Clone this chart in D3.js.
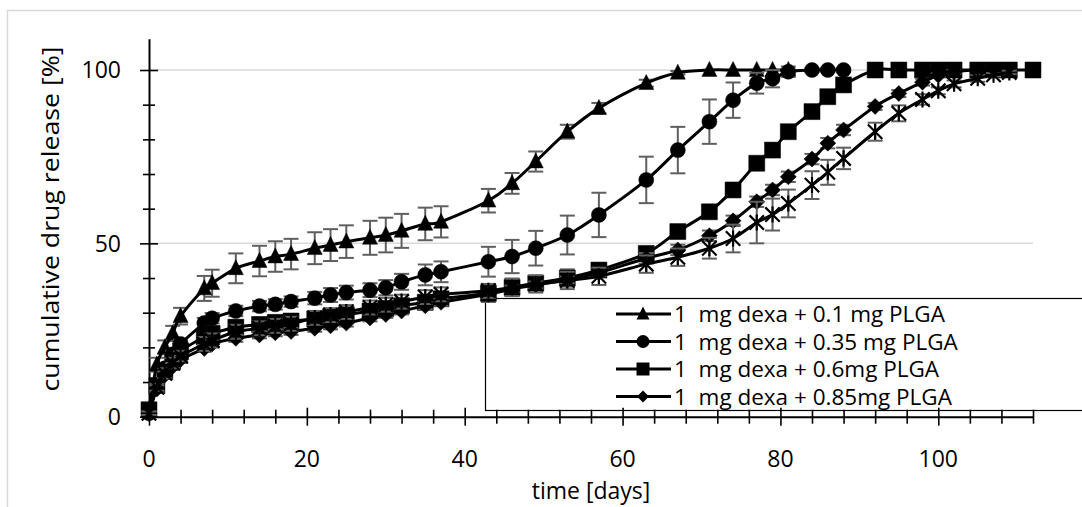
<!DOCTYPE html>
<html>
<head>
<meta charset="utf-8">
<script src="https://cdn.jsdelivr.net/npm/d3@7"></script>
<style>
  body { margin: 0; background: #fff; }
  text { font-family: "Open Sans", sans-serif; fill: #000; }
  .legend-label { white-space: pre; }
</style>
</head>
<body>
<div id="chart"></div>
<script>
// release measured on these days (all series share them, shorter ones stop early)
var days = [0, 1, 2, 3, 4, 7, 8, 11, 14, 16, 18, 21, 23, 25, 28, 30, 32, 35, 37, 43, 46, 49, 53, 57,
            63, 67, 71, 74, 77, 79, 81, 84, 86, 88, 92, 95, 98, 100, 102, 105, 107, 109, 112];

var seriesNames = ["1  mg dexa + 0.1 mg PLGA", "1  mg dexa + 0.35 mg PLGA",
                   "1  mg dexa + 0.6mg PLGA", "1  mg dexa + 0.85mg PLGA", "1  mg dexa + 1.1mg PLGA"];
var markers = ["triangle", "circle", "square", "diamond", "star"];

var release01 = [2, 15, 20, 24, 29, 37, 38.5, 42.8, 44.9, 46.2, 46.9, 48.6, 49.5, 50.5, 51.6, 52.4, 53.6, 55.6, 56.2,
                 62.3, 67.3, 73.6, 82.2, 89, 96.2, 99.2, 100, 100, 100, 100, 100];
var sd01 = [1, 2, 2, 2.2, 2.4, 3.6, 3.9, 4.3, 4.4, 4.4, 4.4, 4.6, 4.6, 4.7, 4.9, 5, 4.9, 4.7, 4.5,
            3.4, 3, 2.9, 2, 1.5, 1, 0.5, 0, 0, 0, 0, 0];

var release035 = [1, 9, 14, 18, 21, 27, 28.4, 30.5, 31.9, 32.4, 33.2, 34.2, 35.1, 35.8, 36.5, 37.2, 38.9, 40.9, 41.8,
                  44.7, 46.2, 48.6, 52.4, 58.2, 68.3, 76.9, 85.1, 91.3, 96.2, 97.5, 99.5, 100, 100, 100];
var sd035 = [0.5, 1, 1, 1, 1.2, 1.5, 1.5, 1.5, 1.5, 1.5, 1.5, 1.8, 2, 2, 2, 2.2, 2.3, 3, 3,
             4.3, 4.8, 5, 5.6, 6.4, 6.7, 6.7, 6.4, 5.1, 3, 2.5, 1.5, 0.5, 0.5, 0.5];

var release06 = [2, 9, 13, 16, 19, 23, 24, 25.8, 26.6, 27.2, 27.6, 28.2, 28.8, 29.4, 30.5, 31.2, 32, 33, 34,
                 35.6, 37.3, 38.5, 40, 42.3, 47.1, 53.4, 59.1, 65.4, 73.1, 76.9, 82.2, 88, 92.3, 95.7,
                 100, 100, 100, 100, 100, 100, 100, 100, 100];
var sd06 = [1, 1.5, 1.5, 1.5, 1.5, 2, 2, 2, 2, 2, 2, 2, 2, 2, 2, 2, 2, 2, 2,
            2.5, 2.5, 2, 2.5, 1.5, 1.5, 1.5, 1.5, 1.5, 1, 1, 1, 1, 1, 1, 0, 0, 0, 0, 0, 0, 0, 0, 0];

var release085 = [1, 8, 12, 14.5, 16.5, 19.7, 21, 22.6, 23.6, 24.2, 24.6, 25.5, 26.2, 27, 28.5, 29.5, 30.5, 32, 33,
                  35.3, 36.8, 38, 39.5, 41.5, 45.7, 48.1, 52.2, 56.5, 62, 65.4, 69.2, 74.3, 78.9, 82.7,
                  89.5, 93.2, 96.5, 98.5, 99.5, 100, 100, 100];
var sd085 = [0.5, 1, 1, 1, 1, 1, 1, 1, 1, 1, 1, 1, 1, 1, 1, 1, 1, 1, 1,
             1, 1, 1, 1, 1, 1.5, 1.5, 1.5, 1.5, 1.5, 1.5, 1.5, 1.5, 1.5, 1.5, 1, 1, 1, 0.5, 0.5, 0, 0, 0];

var release11 = [1, 8.5, 12.5, 15.5, 17.5, 21, 22, 24.5, 25.5, 26.2, 26.8, 28.5, 29.3, 30.2, 31.5, 32.3, 33.2, 34.5, 35.3,
                 36.3, 37.3, 38.3, 39.3, 40.5, 44, 46, 48.6, 51.4, 56, 58.3, 61.5, 66.8, 70.5, 74.5,
                 82.2, 87.5, 91.5, 94, 96, 97.6, 98.6, 99.3];
var sd11 = [0.5, 1, 1.5, 1.5, 1.5, 2, 2, 2, 2, 2, 2, 2, 2, 2, 2, 2, 2, 2, 2,
            2, 2.5, 2.5, 2.5, 2.5, 2.5, 2.5, 3, 4, 6, 4.6, 4, 4, 3.6, 3.1, 2.6, 2.3, 1.5, 1, 1, 1, 0.5, 0.5];

var releases = [release01, release035, release06, release085, release11];
var sds = [sd01, sd035, sd06, sd085, sd11];

var xTicks = d3.range(0, 113, 4);
var xLabels = [0, 20, 40, 60, 80, 100];
var yTicks = d3.range(0, 101, 10);
var yLabels = [0, 50, 100];

var W = 1082, H = 507;

var svg = d3.select("#chart").append("svg")
    .attr("width", W)
    .attr("height", H);

svg.append("rect").attr("width", W).attr("height", H).attr("fill", "#fff");

// outer chart-area border (runs off the right and bottom)
svg.append("rect")
    .attr("x", 7.5).attr("y", 10.5)
    .attr("width", 1100).attr("height", 520)
    .attr("fill", "none")
    .attr("stroke", "#d9d9d9")
    .attr("stroke-width", 1.5);

var x = d3.scaleLinear().domain([0, 112]).range([149, 1033]);
var y = d3.scaleLinear().domain([0, 109]).range([416.7, 38.8]);

// gridlines
svg.append("g")
  .selectAll("line")
  .data([50, 100])
  .enter()
  .append("line")
    .attr("x1", x(0)).attr("x2", x(112))
    .attr("y1", function (d) { return y(d); })
    .attr("y2", function (d) { return y(d); })
    .attr("stroke", "#d9d9d9")
    .attr("stroke-width", 1.5);

// legend box (drawn under the data, no fill)
svg.append("rect")
    .attr("x", 485.5).attr("y", 298.5)
    .attr("width", 700).attr("height", 112)
    .attr("fill", "none")
    .attr("stroke", "#000")
    .attr("stroke-width", 1.2);

// axes
var xAxis = svg.append("g")
    .attr("transform", "translate(0," + y(0) + ")")
    .call(d3.axisBottom(x).tickValues(xTicks).tickSize(0).tickFormat(""));
xAxis.select(".domain").attr("stroke", "#000").attr("stroke-width", 2);
xAxis.selectAll(".tick line")
    .attr("y1", function (d) { return d % 20 === 0 ? -9 : -7; })
    .attr("y2", function (d) { return d % 20 === 0 ? 9 : 7; })
    .attr("stroke", "#000").attr("stroke-width", 1.6);

svg.append("g")
  .selectAll("text")
  .data(xLabels)
  .enter()
  .append("text")
    .attr("x", function (d) { return x(d); })
    .attr("y", 467)
    .attr("text-anchor", "middle")
    .attr("font-size", 23)
    .text(function (d) { return d; });

var yAxis = svg.append("g")
    .attr("transform", "translate(" + x(0) + ",0)")
    .call(d3.axisLeft(y).tickValues(yTicks).tickSize(0).tickFormat(""));
yAxis.select(".domain").attr("stroke", "#000").attr("stroke-width", 2);
yAxis.selectAll(".tick line")
    .attr("x1", function (d) { return d % 50 === 0 ? -9 : -6; })
    .attr("x2", function (d) { return d % 50 === 0 ? 9 : 6; })
    .attr("stroke", "#000").attr("stroke-width", 1.6);

svg.append("g")
  .selectAll("text")
  .data(yLabels)
  .enter()
  .append("text")
    .attr("x", 121)
    .attr("y", function (d) { return y(d) + 8.3; })
    .attr("text-anchor", "end")
    .attr("font-size", 23)
    .text(function (d) { return d; });

// axis titles
svg.append("text")
    .attr("x", 591).attr("y", 499)
    .attr("text-anchor", "middle")
    .attr("font-size", 23)
    .text("time [days]");

svg.append("text")
    .attr("transform", "translate(59,219) rotate(-90)")
    .attr("text-anchor", "middle")
    .attr("font-size", 24)
    .attr("textLength", 345)
    .attr("lengthAdjust", "spacingAndGlyphs")
    .text("cumulative drug release [%]");

// marker shapes, s is roughly the marker width in px
function markerPath(type, s) {
  var h = s / 2;
  if (type === "triangle") {
    return "M0," + (-h * 1.15) + "L" + (h) + "," + (h * 0.85) + "L" + (-h) + "," + (h * 0.85) + "Z";
  }
  if (type === "circle") {
    return "M" + h + ",0A" + h + "," + h + " 0 1,1 " + (-h) + ",0A" + h + "," + h + " 0 1,1 " + h + ",0Z";
  }
  if (type === "square") {
    return "M" + (-h) + "," + (-h) + "H" + h + "V" + h + "H" + (-h) + "Z";
  }
  if (type === "diamond") {
    return "M0," + (-h) + "L" + h + ",0L0," + h + "L" + (-h) + ",0Z";
  }
  // star: an x with a vertical bar through it
  var d = h * 0.9;
  return "M" + (-d) + "," + (-d) + "L" + d + "," + d +
         "M" + (-d) + "," + d + "L" + d + "," + (-d) +
         "M0," + (-h) + "L0," + h;
}
var markerSize = { triangle: 15, circle: 15, square: 16, diamond: 16, star: 16 };

var line = d3.line()
    .x(function (d) { return x(d.t); })
    .y(function (d) { return y(d.v); })
    .curve(d3.curveCardinal.tension(0));

releases.forEach(function (vals, i) {
  var pts = vals.map(function (v, j) { return { t: days[j], v: v, sd: sds[i][j] }; });
  var g = svg.append("g");

  // error bars
  var eb = g.append("g")
    .selectAll("g")
    .data(pts.filter(function (d) { return d.sd > 0; }))
    .enter()
    .append("g")
      .attr("stroke", "#5f5f5f")
      .attr("stroke-width", 2);
  eb.append("line")
      .attr("x1", function (d) { return x(d.t); })
      .attr("x2", function (d) { return x(d.t); })
      .attr("y1", function (d) { return y(d.v + d.sd); })
      .attr("y2", function (d) { return y(d.v - d.sd); });
  eb.append("line")
      .attr("x1", function (d) { return x(d.t) - 7.5; })
      .attr("x2", function (d) { return x(d.t) + 7.5; })
      .attr("y1", function (d) { return y(d.v + d.sd); })
      .attr("y2", function (d) { return y(d.v + d.sd); });
  eb.append("line")
      .attr("x1", function (d) { return x(d.t) - 7.5; })
      .attr("x2", function (d) { return x(d.t) + 7.5; })
      .attr("y1", function (d) { return y(d.v - d.sd); })
      .attr("y2", function (d) { return y(d.v - d.sd); });

  g.append("path")
      .datum(pts)
      .attr("d", line)
      .attr("fill", "none")
      .attr("stroke", "#000")
      .attr("stroke-width", 3);

  var m = markers[i];
  g.append("g")
    .selectAll("path")
    .data(pts)
    .enter()
    .append("path")
      .attr("transform", function (d) { return "translate(" + x(d.t) + "," + y(d.v) + ")"; })
      .attr("d", markerPath(m, markerSize[m]))
      .attr("fill", m === "star" ? "none" : "#000")
      .attr("stroke", "#000")
      .attr("stroke-width", m === "star" ? 2.2 : 0.5);
});

// legend (first four series only, as in the figure)
var legendRows = [0, 1, 2, 3];
var leg = svg.append("g")
  .selectAll("g")
  .data(legendRows)
  .enter()
  .append("g")
    .attr("transform", function (d) { return "translate(0," + (314 + d * 27.5) + ")"; });
leg.append("line")
    .attr("x1", 616).attr("x2", 671)
    .attr("stroke", "#000").attr("stroke-width", 3);
leg.append("path")
    .attr("transform", "translate(643,0)")
    .attr("d", function (d) { return markerPath(markers[d], d === 3 ? 12 : 13); })
    .attr("fill", "#000");
leg.append("text")
    .attr("class", "legend-label")
    .attr("x", 674).attr("y", 8)
    .attr("font-size", 22.5)
    .text(function (d) { return seriesNames[d]; });
</script>
</body>
</html>
